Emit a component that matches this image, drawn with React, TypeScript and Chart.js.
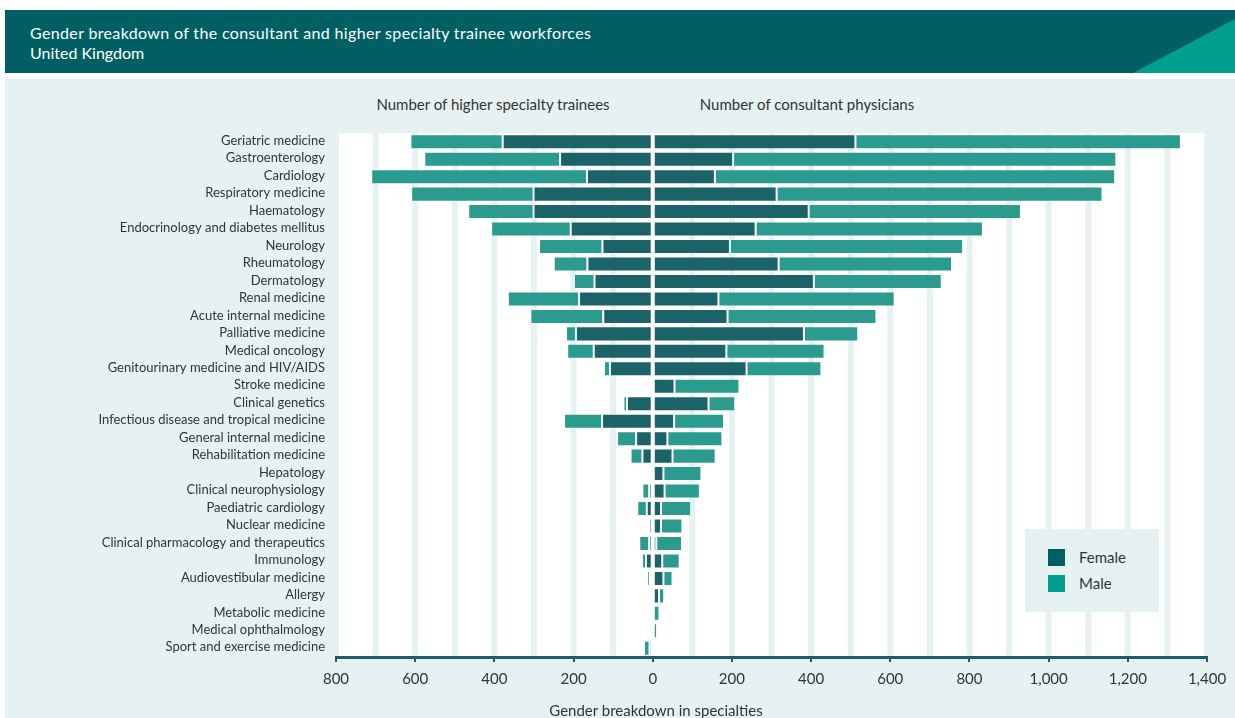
import React, { useEffect, useRef } from "react";
import { Chart, registerables } from "chart.js";
Chart.register(...registerables);

const categories = [
  "Geriatric medicine",
  "Gastroenterology",
  "Cardiology",
  "Respiratory medicine",
  "Haematology",
  "Endocrinology and diabetes mellitus",
  "Neurology",
  "Rheumatology",
  "Dermatology",
  "Renal medicine",
  "Acute internal medicine",
  "Palliative medicine",
  "Medical oncology",
  "Genitourinary medicine and HIV/AIDS",
  "Stroke medicine",
  "Clinical genetics",
  "Infectious disease and tropical medicine",
  "General internal medicine",
  "Rehabilitation medicine",
  "Hepatology",
  "Clinical neurophysiology",
  "Paediatric cardiology",
  "Nuclear medicine",
  "Clinical pharmacology and therapeutics",
  "Immunology",
  "Audiovestibular medicine",
  "Allergy",
  "Metabolic medicine",
  "Medical ophthalmology",
  "Sport and exercise medicine",
];

// Higher specialty trainees (drawn to the left)
const traineeFemale = [379, 234, 166, 301, 301, 207, 127, 165, 147, 186, 125, 194, 149, 108, 0, 65, 128, 42, 26, 0, 9, 15, 0, 9, 17, 7, 6, 0, 0, 8];
const traineeMale = [233, 343, 545, 309, 165, 201, 160, 85, 52, 180, 184, 25, 67, 15, 0, 9, 96, 48, 30, 0, 17, 24, 9, 25, 10, 7, 5, 0, 0, 14];

// Consultant physicians (drawn to the right)
const consultantFemale = [512, 203, 157, 313, 394, 260, 195, 318, 407, 166, 189, 382, 186, 237, 55, 141, 54, 37, 50, 27, 30, 21, 21, 9, 24, 27, 16, 0, 0, 0];
const consultantMale = [822, 968, 1011, 823, 536, 574, 589, 438, 323, 445, 376, 137, 248, 189, 164, 67, 126, 139, 109, 96, 89, 76, 54, 65, 44, 23, 13, 17, 11, 6];

const xMin = -800;
const xMax = 1400;
const tickStep = 200;
const gridStep = 100;

const FONT = 'Lato, "Open Sans", "DejaVu Sans", sans-serif';
const PANEL = "#e6f2f2";
const DARK = "#005f63";
const TEAL = "#009e8f";
const BAR_DARK = "#1b6369";
const BAR_TEAL = "#2a9b8e";
const AXIS = "#1a5f68";
const TEXT = "#333333";

const bgPlugin = {
  id: "bgPlugin",
  beforeDraw(chart: any) {
    const { ctx, chartArea: a, scales } = chart;
    const x = scales.x;
    ctx.save();
    ctx.fillStyle = "#ffffff";
    ctx.fillRect(a.left, a.top, a.right - a.left, a.bottom - a.top);
    ctx.fillStyle = PANEL;
    for (let v = xMin; v <= xMax; v += gridStep) {
      if (v === 0) continue;
      const px = x.getPixelForValue(v);
      ctx.fillRect(px - 3, a.top, 6, a.bottom - a.top);
    }
    ctx.restore();
  },
  afterDatasetsDraw(chart: any) {
    const { ctx, chartArea: a, scales } = chart;
    const px = scales.x.getPixelForValue(0);
    ctx.save();
    ctx.fillStyle = "#ffffff";
    ctx.fillRect(px - 1.5, a.top, 3, a.bottom - a.top - 2);
    ctx.restore();
  },
};

function ChartCanvas() {
  const ref = useRef<HTMLCanvasElement | null>(null);
  useEffect(() => {
    if (!ref.current) return;
    const barCommon = {
      borderWidth: 1,
      borderColor: "rgba(255,255,255,0.25)",
      borderSkipped: false,
      categoryPercentage: 1,
      barPercentage: 0.86,
    };
    const chart = new Chart(ref.current, {
      type: "bar",
      data: {
        labels: categories,
        datasets: [
          { label: "Trainee female", data: traineeFemale.map((v) => -v), backgroundColor: BAR_DARK, ...barCommon },
          { label: "Trainee male", data: traineeMale.map((v) => -v), backgroundColor: BAR_TEAL, ...barCommon },
          { label: "Consultant female", data: consultantFemale, backgroundColor: BAR_DARK, ...barCommon },
          { label: "Consultant male", data: consultantMale, backgroundColor: BAR_TEAL, ...barCommon },
        ] as any,
      },
      options: {
        indexAxis: "y",
        animation: false,
        responsive: false,
        maintainAspectRatio: false,
        layout: { padding: { top: 133, right: 28, left: 0, bottom: 0 } },
        plugins: { legend: { display: false }, tooltip: { enabled: false } },
        scales: {
          x: {
            type: "linear",
            stacked: true,
            min: xMin,
            max: xMax,
            afterFit: (s: any) => {
              s.height = 61;
            },
            ticks: {
              stepSize: tickStep,
              padding: 8,
              color: TEXT,
              font: { family: FONT, size: 15 },
              callback: (v: any) => Math.abs(Number(v)).toLocaleString("en-GB"),
            },
            grid: {
              display: true,
              drawOnChartArea: false,
              drawTicks: true,
              tickLength: 5,
              color: AXIS,
              lineWidth: 2,
            },
            border: { display: true, color: AXIS, width: 3 },
          },
          y: {
            stacked: true,
            afterFit: (s: any) => {
              s.width = 336;
            },
            ticks: {
              padding: 11,
              color: TEXT,
              font: { family: FONT, size: 13 },
              autoSkip: false,
              labelOffset: -1,
            },
            grid: { display: false, drawTicks: false },
            border: { display: false },
          },
        },
      } as any,
      plugins: [bgPlugin],
    });
    return () => chart.destroy();
  }, []);
  return <canvas ref={ref} width={1235} height={718} style={{ position: "absolute", left: 0, top: 0, width: 1235, height: 718 }} />;
}

const centered = (cx: number, top: number): React.CSSProperties => ({
  position: "absolute",
  left: cx,
  top,
  transform: "translateX(-50%)",
  fontSize: 15,
  lineHeight: "20px",
  whiteSpace: "nowrap",
});

export default function App() {
  return (
    <div
      style={{
        position: "fixed",
        left: 0,
        top: 0,
        width: 1235,
        height: 718,
        overflow: "hidden",
        background: "#ffffff",
        fontFamily: FONT,
        color: TEXT,
      }}
    >
      <div style={{ position: "absolute", left: 5, top: 10, width: 1230, height: 63, background: DARK }} />
      <div
        style={{
          position: "absolute",
          left: 1133,
          top: 19,
          width: 102,
          height: 54,
          background: TEAL,
          clipPath: "polygon(0 100%, 100% 0, 100% 100%)",
        }}
      />
      <div style={{ position: "absolute", left: 30, top: 23, fontSize: 16, letterSpacing: "0.35px", lineHeight: "20px", color: "#ffffff", whiteSpace: "nowrap" }}>
        Gender breakdown of the consultant and higher specialty trainee workforces
      </div>
      <div style={{ position: "absolute", left: 30, top: 43, fontSize: 16, lineHeight: "20px", color: "#ffffff", whiteSpace: "nowrap" }}>
        United Kingdom
      </div>
      <div style={{ position: "absolute", left: 5, top: 79, width: 1230, height: 639, background: PANEL }} />
      <div style={centered(493, 94)}>Number of higher specialty trainees</div>
      <div style={centered(807, 94)}>Number of consultant physicians</div>
      <ChartCanvas />
      <div style={centered(656, 700)}>Gender breakdown in specialties</div>
      <div style={{ position: "absolute", left: 1025, top: 529, width: 134, height: 83, background: PANEL }}>
        <div style={{ position: "absolute", left: 23, top: 20, width: 17, height: 17, background: DARK }} />
        <div style={{ position: "absolute", left: 54, top: 18, fontSize: 15, lineHeight: "20px" }}>Female</div>
        <div style={{ position: "absolute", left: 23, top: 46, width: 17, height: 17, background: TEAL }} />
        <div style={{ position: "absolute", left: 54, top: 44, fontSize: 15, lineHeight: "20px" }}>Male</div>
      </div>
    </div>
  );
}
